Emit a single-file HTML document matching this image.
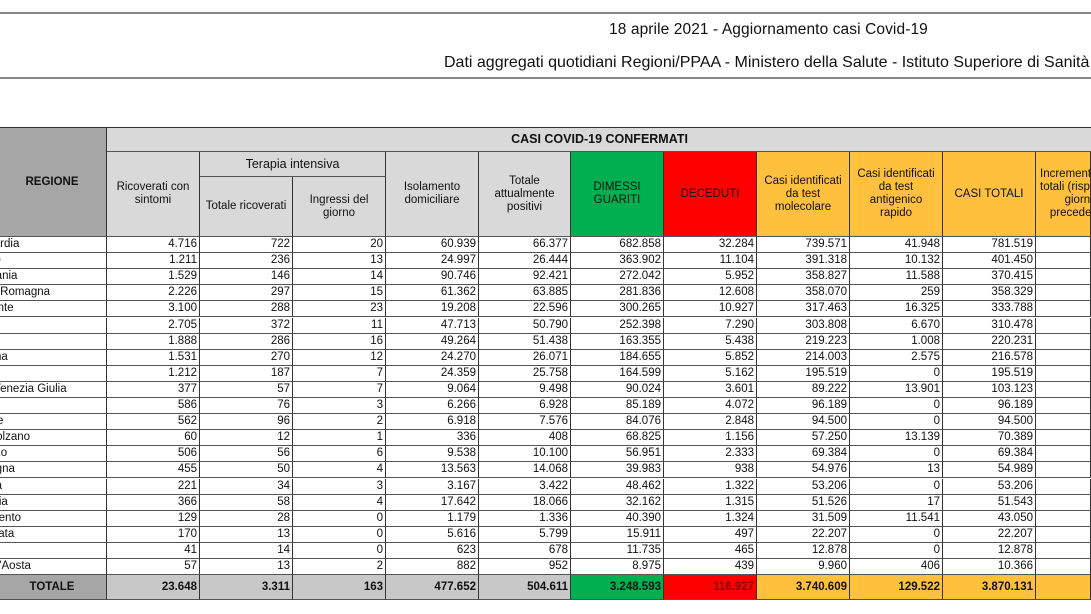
<!DOCTYPE html>
<html><head><meta charset="utf-8">
<style>
body{margin:0;width:1091px;height:614px;overflow:hidden;background:#fff;font-family:"Liberation Sans",sans-serif;color:#111;position:relative}
.hl{position:absolute;left:0;width:1091px;height:2px;background:#888}
.t{position:absolute;text-align:center;font-size:15.5px;white-space:nowrap}
.c{position:absolute;box-sizing:border-box;border-right:1px solid #333;border-bottom:1px solid #555;font-size:11.5px;display:flex;align-items:center;justify-content:center;text-align:center;line-height:13px;overflow:hidden}
.n{justify-content:flex-end;padding-right:2px}
</style></head><body>
<div class="hl" style="top:12px"></div>
<div class="t" style="left:609px;top:21px;letter-spacing:0.1px">18 aprile 2021 - Aggiornamento casi Covid-19</div>
<div class="t" style="left:444px;top:54px;text-align:left;font-size:16px">Dati aggregati quotidiani Regioni/PPAA - Ministero della Salute - Istituto Superiore di Sanità</div>
<div class="hl" style="top:77px"></div>
<div id="tbl"></div>
<script>
const regions=["Lombardia","Veneto","Campania","Emilia-Romagna","Piemonte","Lazio","Puglia","Toscana","Sicilia","Friuli Venezia Giulia","Liguria","Marche","P.A. Bolzano","Abruzzo","Sardegna","Umbria","Calabria","P.A. Trento","Basilicata","Molise","Valle d'Aosta"];
const ricoverati=["4.716","1.211","1.529","2.226","3.100","2.705","1.888","1.531","1.212","377","586","562","60","506","455","221","366","129","170","41","57"];
const terapia=["722","236","146","297","288","372","286","270","187","57","76","96","12","56","50","34","58","28","13","14","13"];
const ingressi=["20","13","14","15","23","11","16","12","7","7","3","2","1","6","4","3","4","0","0","0","2"];
const isolamento=["60.939","24.997","90.746","61.362","19.208","47.713","49.264","24.270","24.359","9.064","6.266","6.918","336","9.538","13.563","3.167","17.642","1.179","5.616","623","882"];
const positivi=["66.377","26.444","92.421","63.885","22.596","50.790","51.438","26.071","25.758","9.498","6.928","7.576","408","10.100","14.068","3.422","18.066","1.336","5.799","678","952"];
const guariti=["682.858","363.902","272.042","281.836","300.265","252.398","163.355","184.655","164.599","90.024","85.189","84.076","68.825","56.951","39.983","48.462","32.162","40.390","15.911","11.735","8.975"];
const deceduti=["32.284","11.104","5.952","12.608","10.927","7.290","5.438","5.852","5.162","3.601","4.072","2.848","1.156","2.333","938","1.322","1.315","1.324","497","465","439"];
const molecolare=["739.571","391.318","358.827","358.070","317.463","303.808","219.223","214.003","195.519","89.222","96.189","94.500","57.250","69.384","54.976","53.206","51.526","31.509","22.207","12.878","9.960"];
const antigenico=["41.948","10.132","11.588","259","16.325","6.670","1.008","2.575","0","13.901","0","0","13.139","0","13","0","17","11.541","0","0","406"];
const totali=["781.519","401.450","370.415","358.329","333.788","310.478","220.231","216.578","195.519","103.123","96.189","94.500","70.389","69.384","54.989","53.206","51.543","43.050","22.207","12.878","10.366"];
const totals=["23.648","3.311","163","477.652","504.611","3.248.593","116.927","3.740.609","129.522","3.870.131",""];
const X=[0,107,200,293,386,479,571,664,757,850,943,1036,1091];
const T=document.getElementById('tbl');
function cell(x,y,w,h,txt,cls,bg,extra,name){const d=document.createElement('div');d.className='c '+(cls||'');d.style.left=x+'px';d.style.top=y+'px';d.style.width=w+'px';d.style.height=h+'px';if(bg)d.style.background=bg;if(extra)d.style.cssText+=extra;d.innerHTML=txt;


T.appendChild(d);return d;}
const top0=127,hb=237,rh=16.1;
cell(-2,top0,X[1]+2,hb-top0,"<b>REGIONE</b>","", "#a6a6a6","border-top:1px solid #333","regione-header");
cell(X[1],top0,1091-X[1]+2,25,"<b style='font-size:12.5px'>CASI COVID-19 CONFERMATI</b>","","#d9d9d9","border-top:1px solid #333","casi-confermati-header");
const heads=["Ricoverati con<br>sintomi","","","Isolamento<br>domiciliare","Totale<br>attualmente<br>positivi","DIMESSI<br>GUARITI","DECEDUTI","Casi identificati<br>da test<br>molecolare","Casi identificati<br>da test<br>antigenico<br>rapido","CASI TOTALI","Incremento casi<br>totali (rispetto al<br>giorno<br>precedente)"];
const hbg=["#d9d9d9","#d9d9d9","#d9d9d9","#d9d9d9","#d9d9d9","#00b050","#ff0000","#ffc03d","#ffc03d","#ffc03d","#ffc03d"];
for(let i=0;i<11;i++){if(i==1||i==2)continue;const d=cell(X[i+1],152,X[i+2]-X[i+1],hb-152,heads[i],"",hbg[i],"","col-header-"+i);if(i==10){d.style.justifyContent='flex-start';d.style.whiteSpace='nowrap';d.style.paddingLeft='4px';}}
cell(X[2],152,X[4]-X[2],25,"<span style='font-size:12.5px'>Terapia intensiva</span>","","#d9d9d9","","terapia-intensiva-header");
cell(X[2],177,X[3]-X[2],hb-177,"Totale ricoverati","","#d9d9d9","","totale-ricoverati-header");
cell(X[3],177,X[4]-X[3],hb-177,"Ingressi del<br>giorno","","#d9d9d9","","ingressi-header");
const cols=[ricoverati,terapia,ingressi,isolamento,positivi,guariti,deceduti,molecolare,antigenico,totali];
regions.forEach((r,j)=>{const y=hb+j*rh;
 const d=cell(-2,y,X[1]+2,rh,"<span style='position:absolute;left:-33px;white-space:nowrap'>"+r+"</span>","","#fff","","region-"+j);d.style.justifyContent='flex-start';
 for(let i=0;i<11;i++){const v=i<10?cols[i][j]:"";cell(X[i+1],y,X[i+2]-X[i+1],rh,v,"n","#fff","","cell-"+j+"-"+i);}
});
const ty=hb+21*rh,th=600-ty;
cell(-2,ty,X[1]+2,th,"<b>TOTALE</b>","","#a6a6a6","","totale-label");
const tbg=["#c8c8c8","#c8c8c8","#c8c8c8","#c8c8c8","#c8c8c8","#00b050","#ff0000","#ffc03d","#ffc03d","#ffc03d","#ffc03d"];
for(let i=0;i<11;i++){const d=cell(X[i+1],ty,X[i+2]-X[i+1],th,"<b>"+totals[i]+"</b>","n",tbg[i],"","total-"+i);if(i==6)d.style.color='#8a0000';}
</script>
</body></html>
